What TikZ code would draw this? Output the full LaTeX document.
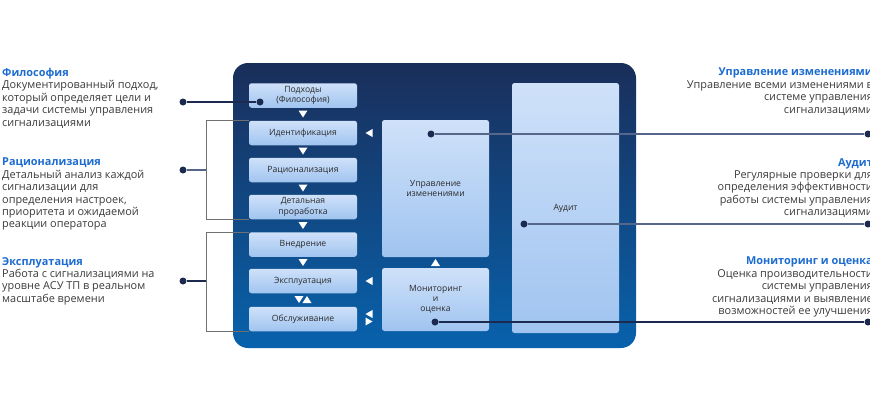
\documentclass[tikz,border=0pt]{standalone}
\usepackage{fontspec}
\setmainfont{Open Sans}
\definecolor{paneltop}{HTML}{1A2E5A}
\definecolor{panelbot}{HTML}{0862AC}
\definecolor{boxtop}{HTML}{CFE1F9}
\definecolor{boxbot}{HTML}{A0C4F0}
\definecolor{headblue}{HTML}{1C6BD0}
\definecolor{desctext}{HTML}{3A3A3A}
\definecolor{boxtext}{HTML}{2A2A2A}
\definecolor{navy}{HTML}{1B2A4E}
\definecolor{linegrey}{HTML}{56678A}
\definecolor{brackgrey}{HTML}{707070}
\tikzset{
  panel/.style={rectangle, rounded corners=15pt, top color=paneltop, bottom color=panelbot, minimum width=403pt, minimum height=285pt, inner sep=0pt},
  stage/.style={rectangle, rounded corners=2.5pt, top color=boxtop, bottom color=boxbot, minimum width=108pt, minimum height=24.5pt, inner sep=0pt, align=center, text=boxtext, font=\fontsize{8.6}{10.2}\selectfont},
  dot/.style={circle, fill=navy, inner sep=0pt, minimum size=7pt},
  link/.style={draw=navy, line width=1.1pt},
  rlink/.style={draw=linegrey, line width=1.1pt},
  bracket/.style={draw=brackgrey, line width=0.8pt},
  note/.style={align=left, inner sep=0pt, text=desctext, font=\fontsize{10.9}{12.4}\selectfont},
  rnote/.style={note, align=right},
  tridown/.pic={\fill[white] (-4.5,-3.5) -- (4.5,-3.5) -- (0,3.5) -- cycle;},
  triup/.pic={\fill[white] (-4.5,3.5) -- (4.5,3.5) -- (0,-3.5) -- cycle;},
  trileft/.pic={\fill[white] (3.5,-4) -- (3.5,4) -- (-3.5,0) -- cycle;},
  triright/.pic={\fill[white] (-3.5,-4) -- (-3.5,4) -- (3.5,0) -- cycle;},
}
\newcommand{\hd}[1]{{\color{headblue}\bfseries #1}}
\begin{document}
\begin{tikzpicture}[x=1pt, y=-1pt]
\useasboundingbox (0,0) rectangle (870,400);
\clip (0,0) rectangle (870,400);

% panel and blocks
\node[panel] (panel) at (434.5,205.5) {};
\node[stage] (approach) at (303,95.5) {Подходы\\(Философия)};
\node[stage] (ident) at (303,133) {Идентификация};
\node[stage] (ration) at (303,170) {Рационализация};
\node[stage] (detail) at (303,207) {Детальная\\проработка};
\node[stage] (deploy) at (303,244.5) {Внедрение};
\node[stage] (operate) at (303,281) {Эксплуатация};
\node[stage] (service) at (303,319) {Обслуживание};
\node[stage, minimum width=107pt, minimum height=137pt] (change) at (435.5,188.5) {Управление\\изменениями};
\node[stage, minimum width=107pt, minimum height=63pt] (monitor) at (435.5,299.5) {Мониторинг\\и\\оценка};
\node[stage, minimum width=107pt, minimum height=250pt] (audit) at (565.5,208) {Аудит};

% flow marks
\foreach \y in {114,151,188,225.5,262.5} \pic at (303,\y) {tridown};
\pic at (299,299.5) {tridown};
\pic at (307,299.5) {triup};
\pic at (435.5,262.5) {triup};
\pic at (369,133) {trileft};
\pic at (369,281) {trileft};
\pic at (369,314) {trileft};
\pic at (369,321.5) {triright};

% brackets
\coordinate (brkA) at (206,170);
\coordinate (brkB) at (206,281);
\path[bracket] (ident.north west) -- (ident.north west -| brkA) -- (detail.south west -| brkA) -- (detail.south west);
\path[bracket] (deploy.north west) -- (deploy.north west -| brkB) -- (service.south west -| brkB) -- (service.south west);

% dots
\node[dot] (phdot) at (183,102) {};
\node[dot] (apdot) at (260,102) {};
\node[dot] (radot) at (183,170) {};
\node[dot] (exdot) at (183,281) {};
\node[dot] (chdot) at (431,134) {};
\node[dot] (chend) at (868,134) {};
\node[dot] (audot) at (524,224) {};
\node[dot] (auend) at (868,224) {};
\node[dot] (modot) at (435,322) {};
\node[dot] (moend) at (868,322) {};

\path[link] (phdot) -- (apdot);
\path[rlink] (radot) -- (brkA);
\path[link] (exdot) -- (brkB);
\path[rlink] (chdot) -- (chend);
\path[rlink] (audot) -- (auend);
\path[link] (modot) -- (moend);

% notes
\node[note, anchor=north west] (philo) at (2,68) {\hd{Философия}\\Документированный подход,\\который определяет цели и\\задачи системы управления\\сигнализациями};
\node[note, anchor=north west] (ratio) at (2,158) {\hd{Рационализация}\\Детальный анализ каждой\\сигнализации для\\определения настроек,\\приоритета и ожидаемой\\реакции оператора};
\node[note, anchor=north west] (explo) at (2,257) {\hd{Эксплуатация}\\Работа с сигнализациями на\\уровне АСУ ТП в реальном\\масштабе времени};
\node[rnote, anchor=north east] (chnote) at (873,68) {\hd{Управление изменениями}\\Управление всеми изменениями в\\системе управления\\сигнализациями};
\node[rnote, anchor=north east] (aunote) at (873,158) {\hd{Аудит}\\Регулярные проверки для\\определения эффективности\\работы системы управления\\сигнализациями};
\node[rnote, anchor=north east] (monote) at (873,257) {\hd{Мониторинг и оценка}\\Оценка производительности\\системы управления\\сигнализациями и выявление\\возможностей ее улучшения};
\end{tikzpicture}
\end{document}
